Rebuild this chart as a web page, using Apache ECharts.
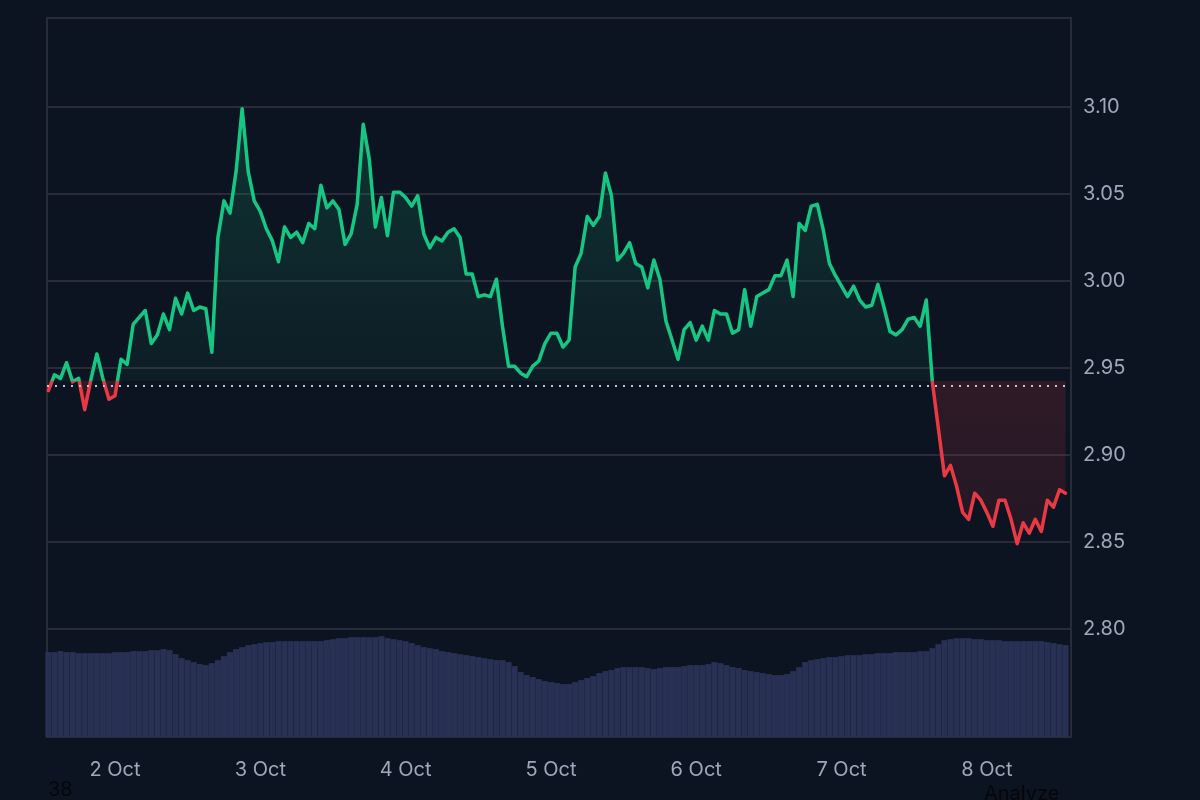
<!DOCTYPE html>
<html><head><meta charset="utf-8">
<script src="https://cdn.jsdelivr.net/npm/echarts@6/dist/echarts.min.js"></script>
<style>html,body{margin:0;padding:0;background:#0d1421;} #c{width:1200px;height:800px;}</style>
</head><body><div id="c"></div>
<script>
// time index: hours since 1 Oct 00:00, first sample 1 Oct 13:00, hourly
const startHour = 13;
const dayTickHours = [24, 48, 72, 96, 120, 144, 168];
const dayLabels = ['2 Oct', '3 Oct', '4 Oct', '5 Oct', '6 Oct', '7 Oct', '8 Oct'];
const priceTicks = [2.80, 2.85, 2.90, 2.95, 3.00, 3.05, 3.10];
const baseline = 2.9425;

const priceValues = [
  2.937, 2.946, 2.944, 2.953, 2.942, 2.944, 2.926, 2.943, 2.958, 2.944, 2.932,   // 13-23
  2.934, 2.955, 2.952, 2.975, 2.979, 2.983, 2.964, 2.969, 2.981, 2.972, 2.990, 2.981, // 24-35
  2.993, 2.983, 2.985, 2.984, 2.959, 3.025, 3.046, 3.039, 3.063, 3.099, 3.063, 3.046, // 36-47
  3.040, 3.030, 3.023, 3.011, 3.031, 3.025, 3.028, 3.022, 3.033, 3.030, 3.055, 3.042, // 48-59
  3.046, 3.041, 3.021, 3.027, 3.044, 3.090, 3.070, 3.031, 3.048, 3.026, 3.051, 3.051, // 60-71
  3.048, 3.043, 3.049, 3.027, 3.019, 3.025, 3.023, 3.028, 3.030, 3.025, 3.004, 3.004, // 72-83
  2.991, 2.992, 2.991, 3.001, 2.974, 2.951, 2.951, 2.947, 2.945, 2.951, 2.954, 2.964, // 84-95
  2.970, 2.970, 2.962, 2.966, 3.008, 3.016, 3.037, 3.032, 3.037, 3.062, 3.049, 3.012, // 96-107
  3.016, 3.022, 3.010, 3.008, 2.996, 3.012, 3.001, 2.977, 2.966, 2.955, 2.972, 2.976, // 108-119
  2.966, 2.974, 2.966, 2.983, 2.981, 2.981, 2.970, 2.972, 2.995, 2.974, 2.991, 2.993, // 120-131
  2.995, 3.003, 3.003, 3.012, 2.991, 3.033, 3.029, 3.043, 3.044, 3.029, 3.010, 3.003, // 132-143
  2.997, 2.991, 2.997, 2.989, 2.985, 2.986, 2.998, 2.985, 2.971, 2.969, 2.972, 2.978, // 144-155
  2.979, 2.974, 2.989, 2.942, 2.915, 2.888, 2.894, 2.882, 2.867, 2.863, 2.878, 2.874, // 156-167
  2.867, 2.859, 2.874, 2.874, 2.863, 2.849, 2.861, 2.855, 2.863, 2.856, 2.874, 2.870, // 168-179
  2.880, 2.878                                                                        // 180-181
];

const volumeValues = [
  85, 85, 86, 85, 85, 84, 84, 84, 84, 84, 84,           // 13-23
  85, 85, 85, 86, 86, 86, 87, 87, 88, 87, 83, 79,       // 24-35
  77, 75, 73, 72, 74, 77, 81, 85, 88, 90, 92, 93,       // 36-47
  94, 95, 95, 96, 96, 96, 96, 96, 96, 96, 96, 97,       // 48-59
  98, 99, 99, 100, 100, 100, 100, 100, 101, 99, 98, 97, // 60-71
  96, 94, 92, 90, 89, 88, 86, 85, 84, 83, 82, 81,       // 72-83
  80, 79, 78, 77, 77, 75, 71, 65, 62, 60, 58, 56,       // 84-95
  55, 54, 53, 53, 55, 57, 59, 61, 64, 66, 67, 69,       // 96-107
  70, 70, 70, 70, 69, 68, 69, 70, 70, 70, 71, 72,       // 108-119
  72, 72, 73, 75, 74, 72, 70, 69, 67, 66, 65, 64,       // 120-131
  63, 62, 62, 63, 66, 70, 75, 77, 78, 79, 80, 80,       // 132-143
  81, 82, 82, 82, 83, 83, 84, 84, 84, 85, 85, 85,       // 144-155
  85, 86, 86, 89, 93, 97, 98, 99, 99, 99, 98, 98,       // 156-167
  97, 97, 97, 96, 96, 96, 96, 96, 96, 96, 95, 94,       // 168-179
  93, 92                                                // 180-181
];

const GREEN = '#16c784';
const RED = '#ea3943';
const GRIDC = '#272c38';
const LABELC = '#a1a7bb';
const FONT = 'Inter';

const hours = priceValues.map((_, i) => startHour + i);
const priceData = hours.map((h, i) => [h, priceValues[i]]);
const upData = hours.map((h, i) => [h, Math.max(priceValues[i], baseline)]);
const downData = hours.map((h, i) => [h, Math.min(priceValues[i], baseline)]);
const volData = hours.map((h, i) => [h, volumeValues[i]]);

const chart = echarts.init(document.getElementById('c'), null, {renderer: 'canvas'});
const gridPos = {left: 47, right: 129, top: 18, bottom: 63};
chart.setOption({
  backgroundColor: '#0d1421',
  animation: false,
  grid: [
    Object.assign({show: true, borderColor: GRIDC, borderWidth: 2, backgroundColor: 'transparent'}, gridPos),
    Object.assign({show: false}, gridPos)
  ],
  xAxis: [
    {
      type: 'value', gridIndex: 0, min: 12.77, max: 181.9,
      axisLine: {show: false}, axisTick: {show: false}, splitLine: {show: false},
      axisLabel: {
        customValues: dayTickHours, color: LABELC, fontSize: 20, fontFamily: FONT, margin: 23,
        formatter: v => dayLabels[dayTickHours.indexOf(v)] || ''
      }
    },
    {
      type: 'value', gridIndex: 1, min: 12.77, max: 181.9, show: false
    }
  ],
  yAxis: [
    {
      type: 'value', gridIndex: 0, position: 'right', min: 2.7379, max: 3.1511,
      axisLine: {show: false},
      axisTick: {show: false, customValues: priceTicks},
      splitLine: {show: true, lineStyle: {color: GRIDC, width: 2}},
      axisLabel: {
        customValues: priceTicks, color: LABELC, fontSize: 20, fontFamily: FONT, margin: 12,
        formatter: v => v.toFixed(2)
      }
    },
    {type: 'value', gridIndex: 1, min: 0, max: 720, show: false}
  ],
  series: [
    {
      name: 'volume', type: 'bar', xAxisIndex: 1, yAxisIndex: 1, data: volData,
      barWidth: 6, itemStyle: {color: '#283054'}, silent: true, z: 1
    },
    {
      name: 'up area', type: 'line', data: upData, showSymbol: false, silent: true, z: 2,
      lineStyle: {width: 0, opacity: 0}, itemStyle: {color: GREEN},
      areaStyle: {
        origin: baseline,
        color: new echarts.graphic.LinearGradient(0, 0, 0, 1, [
          {offset: 0, color: 'rgba(22,199,132,0.26)'},
          {offset: 1, color: 'rgba(22,199,132,0.07)'}
        ])
      }
    },
    {
      name: 'down area', type: 'line', data: downData, showSymbol: false, silent: true, z: 2,
      lineStyle: {width: 0, opacity: 0}, itemStyle: {color: RED},
      areaStyle: {
        origin: baseline,
        color: new echarts.graphic.LinearGradient(0, 0, 0, 1, [
          {offset: 0, color: 'rgba(234,57,67,0.22)'},
          {offset: 1, color: 'rgba(234,57,67,0.14)'}
        ])
      }
    },
    {
      name: 'price', type: 'line', data: priceData, showSymbol: false, z: 4,
      lineStyle: {width: 3.5, color: GREEN, join: 'round', cap: 'round'}, itemStyle: {color: GREEN},
      markLine: {
        silent: true, symbol: ['none', 'none'], label: {show: false},
        lineStyle: {color: '#c3c7d1', type: [2, 6], width: 2},
        data: [{yAxis: baseline}]
      }
    }
  ],
  graphic: [
    {type: 'text', left: 48, top: 780, style: {text: '38', fill: '#05070a', font: '20px Inter'}},
    {type: 'text', left: 984, top: 784, style: {text: 'Analyze', fill: '#05070a', font: '20px Inter'}}
  ]
});

// colour the price line green above the baseline and red below it
const yb = chart.convertToPixel({yAxisIndex: 0}, baseline);
const H = chart.getHeight();
const f = yb / H;
chart.setOption({
  series: [{}, {}, {}, {
    lineStyle: {
      color: new echarts.graphic.LinearGradient(0, 0, 0, H, [
        {offset: 0, color: GREEN}, {offset: f, color: GREEN},
        {offset: f, color: RED}, {offset: 1, color: RED}
      ], true)
    }
  }]
});
</script></body></html>
